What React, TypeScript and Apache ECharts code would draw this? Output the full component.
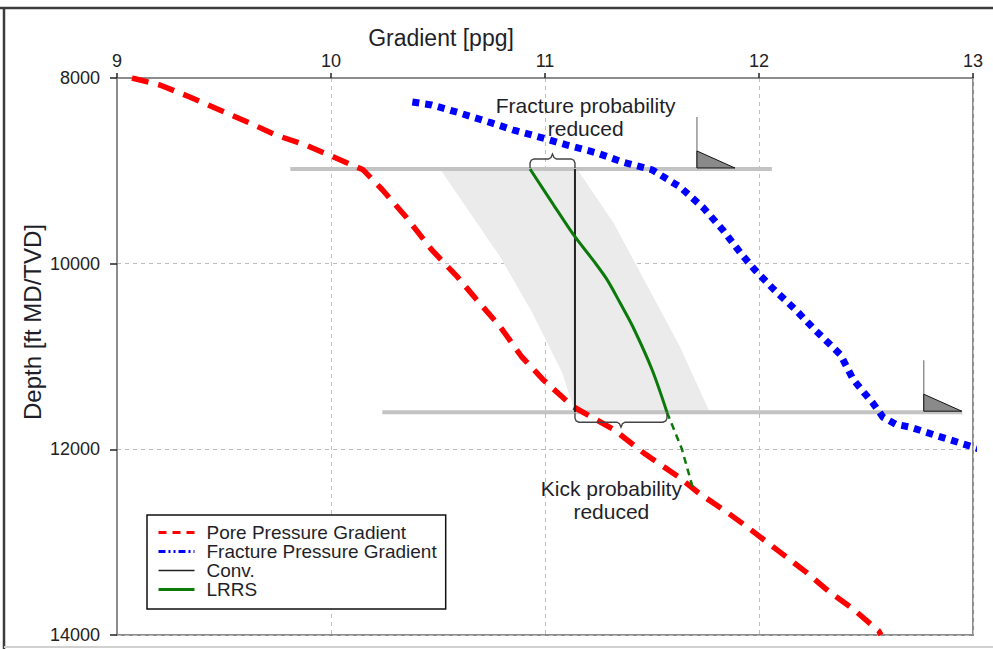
import React, { useEffect, useRef } from 'react';
import * as echarts from 'echarts';

const FONT = '"Liberation Sans", Arial, Helvetica, sans-serif';

// Axis ranges / ticks
const xTickStep = 1;
const xMin = 9;
const xMax = 13;
const depthMin = 8000;
const depthMax = 14000;
const depthStep = 2000;

// Pore pressure gradient (ppg vs depth ft)
const porePPG = [9.07, 9.20, 9.34, 9.48, 9.62, 9.74, 9.88, 10.01, 10.15, 10.24, 10.35, 10.47, 10.59, 10.68, 10.79, 10.89, 10.99, 11.13, 11.32, 11.47, 11.62, 11.72, 11.85, 11.94, 12.08, 12.22, 12.33, 12.44, 12.56, 12.57];
const poreDepth = [8000, 8075, 8204, 8344, 8484, 8613, 8720, 8849, 8989, 9204, 9495, 9849, 10140, 10387, 10677, 11000, 11247, 11538, 11785, 12054, 12290, 12473, 12677, 12828, 13075, 13323, 13538, 13720, 13957, 14000];

// Fracture pressure gradient
const fracPPG = [10.38, 10.47, 10.60, 10.75, 10.85, 10.97, 11.10, 11.24, 11.36, 11.50, 11.63, 11.74, 11.83, 11.92, 11.98, 12.07, 12.17, 12.26, 12.38, 12.44, 12.49, 12.53, 12.58, 12.64, 12.71, 12.84, 12.96, 13.06];
const fracDepth = [8258, 8290, 8376, 8484, 8559, 8634, 8720, 8806, 8903, 8989, 9172, 9398, 9634, 9903, 10065, 10280, 10495, 10710, 10978, 11247, 11387, 11495, 11656, 11731, 11763, 11860, 11946, 12020];

// Conventional mud weight
const convPPG = [11.14, 11.14];
const convDepth = [8980, 11600];

// LRRS
const lrrsPPG = [10.93, 11.04, 11.14, 11.23, 11.29, 11.35, 11.41, 11.50, 11.57];
const lrrsDepth = [8980, 9366, 9710, 9978, 10172, 10419, 10677, 11140, 11600];
const lrrsExtPPG = [11.57, 11.64, 11.69];
const lrrsExtDepth = [11600, 12000, 12409];

// Shaded band
const bandLeftPPG = [10.51, 10.63, 10.79, 10.94, 11.08, 11.14];
const bandLeftDepth = [8980, 9387, 9925, 10527, 11172, 11600];
const bandRightPPG = [11.15, 11.32, 11.47, 11.63, 11.77];
const bandRightDepth = [8980, 9559, 10204, 10892, 11600];

// Casing shoes
const casingDepth = [8980, 11600];
const casingFrom = [9.81, 10.24];
const casingTo = [12.06, 12.95];
const shoePPG = [11.71, 12.77];

// Braces
const braceFrom = [10.93, 11.14];
const braceTo = [11.14, 11.57];
const braceDir = [-1, 1];

// Annotations
const notes = ['Fracture probability\nreduced', 'Kick probability\nreduced'];
const notePPG = [11.19, 11.31];
const noteDepth = [8419, 12548];

const names = ['Pore Pressure Gradient', 'Fracture Pressure Gradient', 'Conv.', 'LRRS'];

const zip = (a: number[], b: number[]) => a.map((v, i) => [v, b[i]]);

function renderBand(params: any, api: any) {
  if (params.dataIndex !== 0) return null;
  const pts: number[][] = [];
  bandLeftPPG.forEach((v, i) => pts.push(api.coord([v, bandLeftDepth[i]])));
  for (let i = bandRightPPG.length - 1; i >= 0; i--) pts.push(api.coord([bandRightPPG[i], bandRightDepth[i]]));
  return {
    type: 'polygon',
    shape: { points: pts },
    style: { fill: '#ebebeb', stroke: null },
  };
}

function renderCasing(params: any, api: any) {
  if (params.dataIndex !== 0) return null;
  const children: any[] = [];
  casingDepth.forEach((d, i) => {
    const a = api.coord([casingFrom[i], d]);
    const b = api.coord([casingTo[i], d]);
    children.push({
      type: 'line',
      shape: { x1: a[0], y1: a[1], x2: b[0], y2: b[1] },
      style: { stroke: '#c3c3c3', lineWidth: 4 },
    });
  });
  return { type: 'group', children };
}

function renderOverlay(params: any, api: any) {
  if (params.dataIndex !== 0) return null;
  const children: any[] = [];
  // shoes
  casingDepth.forEach((d, i) => {
    const p = api.coord([shoePPG[i], d]);
    const x = p[0];
    const y = p[1] - 1;
    children.push({
      type: 'line',
      shape: { x1: x, y1: y - 51, x2: x, y2: y },
      style: { stroke: '#7a7a7a', lineWidth: 1.2 },
    });
    children.push({
      type: 'polygon',
      shape: { points: [[x, y - 17], [x, y], [x + 38, y]] },
      style: { fill: '#8a8a8a', stroke: '#111', lineWidth: 1 },
    });
  });
  // braces
  casingDepth.forEach((d, i) => {
    const a = api.coord([braceFrom[i], d]);
    const b = api.coord([braceTo[i], d]);
    const s = braceDir[i];
    const y0 = a[1];
    const x1 = a[0];
    const x2 = b[0];
    const m = (x1 + x2) / 2;
    const h = 10;
    const pts = [
      [x1, y0 + s * 1],
      [x1, y0 + s * (h - 4)],
      [x1 + 1.2, y0 + s * (h - 1.2)],
      [x1 + 4, y0 + s * h],
      [m - 4, y0 + s * h],
      [m - 1.5, y0 + s * (h + 1.5)],
      [m, y0 + s * (h + 5)],
      [m + 1.5, y0 + s * (h + 1.5)],
      [m + 4, y0 + s * h],
      [x2 - 4, y0 + s * h],
      [x2 - 1.2, y0 + s * (h - 1.2)],
      [x2, y0 + s * (h - 4)],
      [x2, y0 + s * 1],
    ];
    children.push({
      type: 'polyline',
      shape: { points: pts },
      style: { stroke: '#444', lineWidth: 1.4, fill: null },
    });
  });
  // annotation texts
  notes.forEach((t, i) => {
    const p = api.coord([notePPG[i], noteDepth[i]]);
    children.push({
      type: 'text',
      x: p[0],
      y: p[1],
      style: {
        text: t,
        fontSize: 21,
        fontFamily: FONT,
        fill: '#1f1f2a',
        align: 'center',
        verticalAlign: 'middle',
        textAlign: 'center',
        textVerticalAlign: 'middle',
        lineHeight: 23,
      },
    });
  });
  return { type: 'group', children };
}

export default function App() {
  const ref = useRef<HTMLDivElement>(null);

  useEffect(() => {
    document.body.style.margin = '0';
    if (!ref.current) return;
    const chart = echarts.init(ref.current, null, { renderer: 'svg' });

    const option: any = {
      animation: false,
      backgroundColor: '#ffffff',
      grid: {
        left: 117,
        right: 20,
        top: 78,
        bottom: 14,
        show: true,
        borderColor: '#8c8c8c',
        borderWidth: 2,
        backgroundColor: 'transparent',
      },
      xAxis: {
        type: 'value',
        position: 'top',
        min: xMin,
        max: xMax,
        interval: xTickStep,
        axisLine: { show: true, lineStyle: { color: '#8c8c8c', width: 2 } },
        axisTick: { show: true, length: 5, lineStyle: { color: '#222', width: 1.5 } },
        axisLabel: { fontSize: 18, fontFamily: FONT, color: '#222', margin: 8, formatter: (v: number) => String(v) },
        splitLine: { show: true, lineStyle: { color: '#bdbdbd', type: [4, 4], width: 1 } },
      },
      yAxis: {
        type: 'value',
        inverse: true,
        min: depthMin,
        max: depthMax,
        interval: depthStep,
        axisLine: { show: true, lineStyle: { color: '#8c8c8c', width: 2 } },
        axisTick: { show: true, length: 7, lineStyle: { color: '#222', width: 1.5 } },
        axisLabel: { fontSize: 18, fontFamily: FONT, color: '#222', margin: 17, formatter: (v: number) => String(v) },
        splitLine: { show: true, lineStyle: { color: '#bdbdbd', type: [4, 4], width: 1 } },
      },
      legend: {
        orient: 'vertical',
        left: 147,
        top: 515,
        padding: [8, 9, 10, 10],
        itemGap: 0,
        itemWidth: 36,
        itemHeight: 14,
        borderColor: '#111',
        borderWidth: 1.5,
        backgroundColor: '#fff',
        itemStyle: { opacity: 0 },
        textStyle: { fontSize: 19, fontFamily: FONT, color: '#1f1f2a', lineHeight: 18.5, padding: [0, 0, 0, 7] },
        data: [
          { name: names[0], lineStyle: { type: [8, 6], width: 3 } },
          { name: names[1], lineStyle: { type: [7, 3, 2, 3, 2, 3], width: 3 } },
          { name: names[2], lineStyle: { width: 1.5 } },
          { name: names[3], lineStyle: { width: 3 } },
        ],
      },
      graphic: [
        { type: 'line', shape: { x1: 0, y1: 8, x2: 993, y2: 8 }, style: { stroke: '#3c3c3c', lineWidth: 2.5 } },
        { type: 'line', shape: { x1: 4, y1: 8, x2: 4, y2: 649 }, style: { stroke: '#3c3c3c', lineWidth: 2.5 } },
        { type: 'line', shape: { x1: 4, y1: 647, x2: 993, y2: 647 }, style: { stroke: '#d0d0d0', lineWidth: 2 } },
        {
          type: 'text',
          x: 441,
          y: 38,
          style: {
            text: 'Gradient [ppg]',
            fontSize: 23,
            fontFamily: FONT,
            fill: '#1f1f2a',
            align: 'center',
            verticalAlign: 'middle',
          },
        },
        {
          type: 'text',
          x: 32,
          y: 322,
          rotation: Math.PI / 2,
          style: {
            text: 'Depth [ft MD/TVD]',
            fontSize: 24,
            fontFamily: FONT,
            fill: '#1f1f2a',
            align: 'center',
            verticalAlign: 'middle',
          },
        },
      ],
      series: [
        {
          type: 'custom',
          name: 'band',
          renderItem: renderBand,
          data: [[bandLeftPPG[0], bandLeftDepth[0]]],
          z: 1,
          silent: true,
        },
        {
          type: 'custom',
          name: 'casing',
          renderItem: renderCasing,
          data: [[casingFrom[0], casingDepth[0]]],
          z: 2,
          silent: true,
        },
        {
          type: 'line',
          name: names[0],
          data: zip(porePPG, poreDepth),
          showSymbol: false,
          symbol: 'none',
          lineStyle: { color: '#ff0000', width: 5.5, type: [17, 10], cap: 'butt' },
          itemStyle: { color: '#ff0000' },
          z: 3,
        },
        {
          type: 'line',
          name: names[1],
          data: zip(fracPPG, fracDepth),
          showSymbol: false,
          symbol: 'none',
          clip: false,
          lineStyle: { color: '#0000ff', width: 7, type: [7, 6], cap: 'butt' },
          itemStyle: { color: '#0000ff' },
          z: 3,
        },
        {
          type: 'line',
          name: names[2],
          data: zip(convPPG, convDepth),
          showSymbol: false,
          symbol: 'none',
          lineStyle: { color: '#222222', width: 2 },
          itemStyle: { color: '#222222' },
          z: 4,
        },
        {
          type: 'line',
          name: names[3],
          data: zip(lrrsPPG, lrrsDepth),
          showSymbol: false,
          symbol: 'none',
          smooth: 0.3,
          lineStyle: { color: '#0b7a0b', width: 3 },
          itemStyle: { color: '#0b7a0b' },
          z: 4,
        },
        {
          type: 'line',
          name: 'LRRS ext',
          data: zip(lrrsExtPPG, lrrsExtDepth),
          showSymbol: false,
          symbol: 'none',
          lineStyle: { color: '#0b7a0b', width: 2.5, type: [7, 5] },
          itemStyle: { color: '#0b7a0b' },
          z: 4,
        },
        {
          type: 'custom',
          name: 'overlay',
          renderItem: renderOverlay,
          data: [[shoePPG[0], casingDepth[0]]],
          z: 5,
          silent: true,
        },
      ],
    };

    chart.setOption(option);
    return () => chart.dispose();
  }, []);

  return <div ref={ref} style={{ width: 993, height: 649 }} />;
}
